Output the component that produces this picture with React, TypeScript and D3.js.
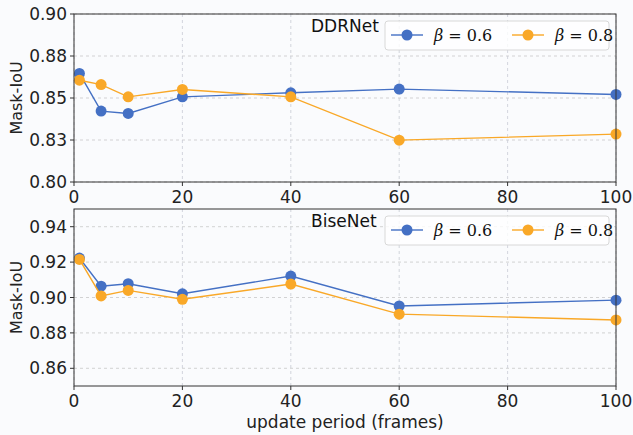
import * as d3 from 'd3';

const periods = [1, 5, 10, 20, 40, 60, 100];
const xTicks = [0, 20, 40, 60, 80, 100];

const ddrBeta06 = [0.8646, 0.8422, 0.8408, 0.8507, 0.8531, 0.8553, 0.8521];
const ddrBeta08 = [0.8606, 0.858, 0.8507, 0.8551, 0.8507, 0.8249, 0.8285];
const ddrTicks = [0.8, 0.825, 0.85, 0.875, 0.9];
const ddrTickLabels = ['0.80', '0.83', '0.85', '0.88', '0.90'];

const biseBeta06 = [0.9223, 0.9064, 0.9078, 0.9021, 0.9121, 0.8952, 0.8985];
const biseBeta08 = [0.9215, 0.9009, 0.904, 0.899, 0.9076, 0.8906, 0.8873];
const biseTicks = [0.86, 0.88, 0.9, 0.92, 0.94];
const biseTickLabels = ['0.86', '0.88', '0.90', '0.92', '0.94'];

const seriesNames = ['0.6', '0.8'];
const colors = ['#4470c4', '#f9a828'];

const W = 633;
const H = 435;
const left = 74;
const right = 616;
const font = 'DejaVu Sans, sans-serif';

interface PanelProps {
  title: string;
  top: number;
  bottom: number;
  domain: [number, number];
  ticks: number[];
  tickLabels: string[];
  series: number[][];
}

function Panel({ title, top, bottom, domain, ticks, tickLabels, series }: PanelProps) {
  const x = d3.scaleLinear().domain([0, 100]).range([left, right]);
  const y = d3.scaleLinear().domain(domain).range([bottom, top]);
  const line = d3
    .line<number>()
    .x((_d, i) => x(periods[i]))
    .y((d) => y(d));

  const legendX = 385;
  const legendY = top + 8;

  return (
    <g>
      {/* grid */}
      {ticks.map((t) => (
        <line key={'gy' + t} x1={left} x2={right} y1={y(t)} y2={y(t)} stroke="#c8c8c8" strokeDasharray="3,3" strokeWidth={0.8} />
      ))}
      {xTicks.map((t) => (
        <line key={'gx' + t} x1={x(t)} x2={x(t)} y1={top} y2={bottom} stroke="#c8ccd4" strokeDasharray="3,3" strokeWidth={0.8} />
      ))}

      {/* series */}
      {series.map((s, k) => (
        <g key={'s' + k}>
          <path d={line(s) ?? ''} fill="none" stroke={colors[k]} strokeWidth={1.4} />
          {s.map((v, i) => (
            <circle key={i} cx={x(periods[i])} cy={y(v)} r={5.5} fill={colors[k]} />
          ))}
        </g>
      ))}

      {/* frame */}
      <rect x={left} y={top} width={right - left} height={bottom - top} fill="none" stroke="#333" strokeWidth={1} />

      {/* y axis */}
      {ticks.map((t, i) => (
        <g key={'yt' + t}>
          <line x1={left - 4} x2={left} y1={y(t)} y2={y(t)} stroke="#333" />
          <text x={left - 7} y={y(t)} dy="0.36em" textAnchor="end" fontFamily={font} fontSize={17} fill="#222">
            {tickLabels[i]}
          </text>
        </g>
      ))}
      <text
        transform={`translate(22,${(top + bottom) / 2}) rotate(-90)`}
        textAnchor="middle"
        fontFamily={font}
        fontSize={16}
        fill="#222"
      >
        Mask-IoU
      </text>

      {/* x axis */}
      {xTicks.map((t) => (
        <g key={'xt' + t}>
          <line x1={x(t)} x2={x(t)} y1={bottom} y2={bottom + 4} stroke="#333" />
          <text x={x(t)} y={bottom + 21} textAnchor="middle" fontFamily={font} fontSize={17} fill="#222">
            {t}
          </text>
        </g>
      ))}

      {/* title */}
      <text x={311} y={top + 18} fontFamily={font} fontSize={17} fill="#111">
        {title}
      </text>

      {/* legend */}
      <rect x={legendX} y={legendY - 1} width={224} height={29} rx={3} fill="#fff" fillOpacity={0.8} stroke="#d8d8d8" />
      {seriesNames.map((name, k) => {
        const lx = legendX + 6 + k * 121;
        const ly = legendY + 13;
        return (
          <g key={'lg' + k}>
            <line x1={lx} x2={lx + 32} y1={ly} y2={ly} stroke={colors[k]} strokeWidth={1.4} />
            <circle cx={lx + 16} cy={ly} r={5.5} fill={colors[k]} />
            <text x={lx + 43} y={ly + 6} fontFamily="DejaVu Serif, serif" fontSize={16} fill="#111">
              <tspan fontStyle="italic">β</tspan>
              <tspan> = {name}</tspan>
            </text>
          </g>
        );
      })}
    </g>
  );
}

export default function App() {
  return (
    <div style={{ position: 'fixed', left: 0, top: 0 }}>
      <svg width={W} height={H} style={{ display: 'block' }}>
        <rect width={W} height={H} fill="#fafbfd" />
        <Panel
          title="DDRNet"
          top={14}
          bottom={182}
          domain={[0.8, 0.9]}
          ticks={ddrTicks}
          tickLabels={ddrTickLabels}
          series={[ddrBeta06, ddrBeta08]}
        />
        <Panel
          title="BiseNet"
          top={209}
          bottom={386}
          domain={[0.85, 0.95]}
          ticks={biseTicks}
          tickLabels={biseTickLabels}
          series={[biseBeta06, biseBeta08]}
        />
        <text x={(left + right) / 2} y={428} textAnchor="middle" fontFamily={font} fontSize={17} fill="#222">
          update period (frames)
        </text>
      </svg>
    </div>
  );
}
